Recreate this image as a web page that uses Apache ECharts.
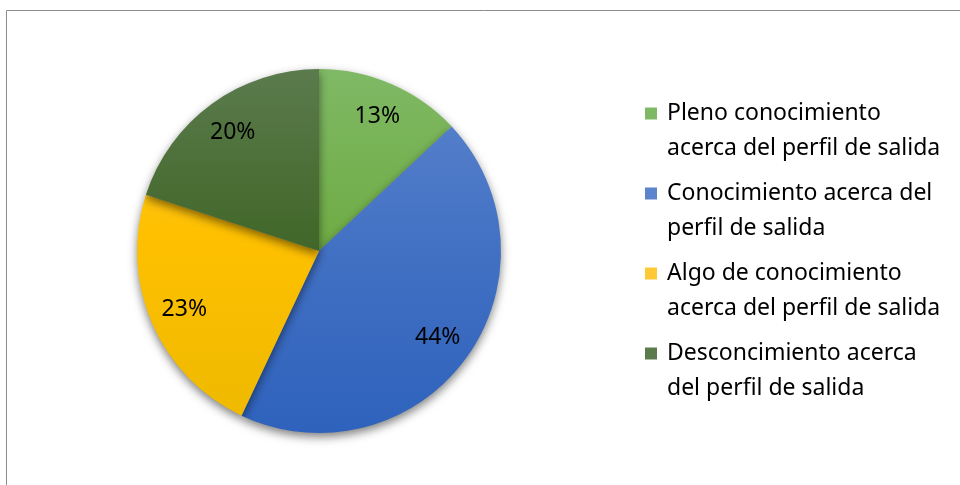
<!DOCTYPE html>
<html>
<head>
<meta charset="utf-8">
<script src="https://cdn.jsdelivr.net/npm/echarts@6/dist/echarts.min.js"></script>
<style>
  html, body { margin: 0; padding: 0; background: #fff; }
  #chart { width: 960px; height: 485px; }
</style>
</head>
<body>
<div id="chart"></div>
<script>
// datos
const categories = [
  "Pleno conocimiento\nacerca del perfil de salida",
  "Conocimiento acerca del\nperfil de salida",
  "Algo de conocimiento\nacerca del perfil de salida",
  "Desconcimiento acerca\ndel perfil de salida"
];
const values = [13, 44, 23, 20];
// colores (arriba / centro / abajo, degradado tipo Office)
const topColors = ["#7fb965", "#5b84cd", "#ffc935", "#5b7b4d"];
const midColors = ["#70ad47", "#4472c4", "#ffc000", "#43682b"];
const bottomColors = ["#5ea238", "#2e62bc", "#edb900", "#3b5d21"];

const fontFamily = "'Noto Sans', 'Open Sans', sans-serif";
const center = [319, 251];
const radius = 182;

const chart = echarts.init(document.getElementById("chart"));

// degradado global sobre todo el circulo
function grad(i) {
  return new echarts.graphic.LinearGradient(0, center[1] - radius, 0, center[1] + radius, [
    { offset: 0, color: topColors[i] },
    { offset: 0.45, color: midColors[i] },
    { offset: 1, color: bottomColors[i] }
  ], true);
}

const pieData = categories.map((name, i) => ({
  name: name,
  value: values[i],
  itemStyle: { color: grad(i) }
}));

chart.setOption({
  animation: false,
  graphic: [
    {
      type: "rect",
      shape: { x: 6.5, y: 10.5, width: 1000, height: 600 },
      style: { fill: "none", stroke: "#8c8c8c", lineWidth: 1 },
      z: -1
    }
  ],
  legend: {
    orient: "vertical",
    left: 645,
    top: 61,
    padding: 0,
    itemWidth: 12,
    itemHeight: 12,
    itemGap: -25,
    icon: "rect",
    data: categories,
    // linea vacia arriba para que el cuadro quede a la altura de la primera linea
    formatter: name => "\n" + name,
    textStyle: {
      fontFamily: fontFamily,
      fontSize: 23,
      lineHeight: 35,
      color: "#000",
      padding: [0, 0, 0, 5]
    }
  },
  series: [
    {
      type: "pie",
      center: center,
      radius: radius,
      startAngle: 90,
      clockwise: true,
      label: { show: false },
      labelLine: { show: false },
      itemStyle: {
        borderWidth: 0,
        shadowBlur: 10,
        shadowOffsetY: 4,
        shadowColor: "rgba(0,0,0,0.5)"
      },
      emphasis: { disabled: true },
      data: pieData
    },
    {
      // serie auxiliar solo para colocar las etiquetas de porcentaje
      type: "pie",
      center: center,
      radius: radius * 2 * 0.79,
      startAngle: 90,
      clockwise: true,
      silent: true,
      z: 5,
      itemStyle: { color: "transparent", borderWidth: 0 },
      label: {
        show: true,
        position: "inside",
        formatter: "{d}%",
        fontFamily: fontFamily,
        fontSize: 23,
        color: "#000"
      },
      labelLine: { show: false },
      emphasis: { disabled: true },
      data: categories.map((name, i) => ({ name: name, value: values[i] }))
    }
  ]
});
</script>
</body>
</html>
